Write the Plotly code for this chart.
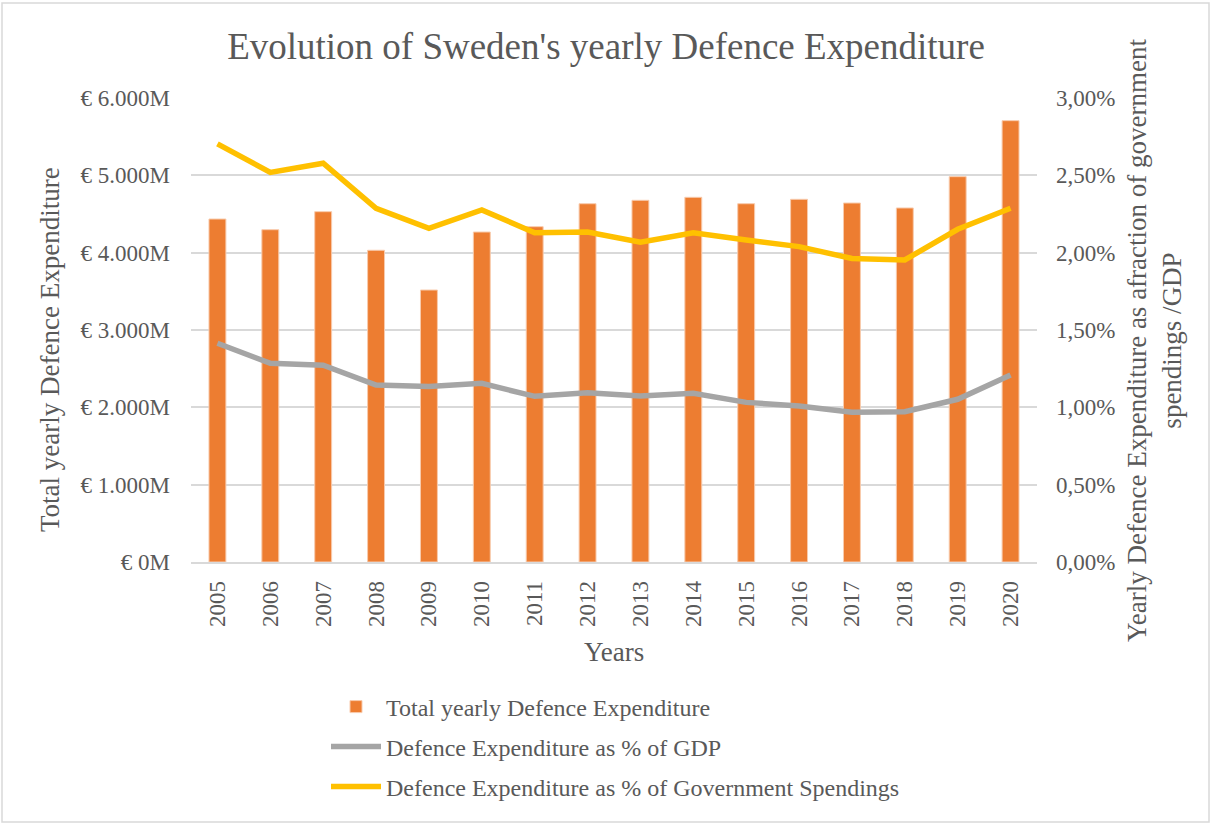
import plotly.graph_objects as go

years = [str(y) for y in range(2005, 2021)]
total_expenditure = [4435, 4297, 4530, 4031, 3517, 4267, 4336, 4633, 4677, 4716,
                     4633, 4690, 4642, 4578, 4983, 5707]
pct_gdp = [1.414, 1.285, 1.272, 1.144, 1.134, 1.155, 1.071, 1.095, 1.073, 1.091,
           1.032, 1.009, 0.968, 0.972, 1.052, 1.209]
pct_gov = [2.703, 2.519, 2.578, 2.287, 2.157, 2.276, 2.129, 2.134, 2.067, 2.129,
           2.082, 2.039, 1.963, 1.953, 2.151, 2.287]

left_ticks = [0, 1000, 2000, 3000, 4000, 5000, 6000]
left_labels = ["€ 0M", "€ 1.000M", "€ 2.000M", "€ 3.000M", "€ 4.000M", "€ 5.000M", "€ 6.000M"]
right_ticks = [0, 0.5, 1.0, 1.5, 2.0, 2.5, 3.0]
right_labels = ["0,00%", "0,50%", "1,00%", "1,50%", "2,00%", "2,50%", "3,00%"]

FONT = "Liberation Serif"
GREY_TXT = "#595959"

fig = go.Figure()
fig.add_trace(go.Bar(
    x=years, y=total_expenditure, name="Total yearly Defence Expenditure",
    marker=dict(color="#ED7D31", line=dict(color="#F8CBAD", width=1)),
    legend="legend", yaxis="y"))
fig.add_trace(go.Scatter(
    x=years, y=pct_gdp, name="Defence Expenditure as % of GDP",
    mode="lines", line=dict(color="#A5A5A5", width=5.5), legend="legend2", yaxis="y2"))
fig.add_trace(go.Scatter(
    x=years, y=pct_gov, name="Defence Expenditure as % of Government Spendings",
    mode="lines", line=dict(color="#FFC000", width=5.5), legend="legend3", yaxis="y2"))

L, R, T, B = 191, 175, 98, 263
W, H = 1212, 825
pw, ph = W - L - R, H - T - B

def px_x(p):
    return (p - L) / pw

def px_y(p):
    return (H - B - p) / ph

def legend_at(ypix):
    return dict(orientation="v", x=px_x(326), xanchor="left",
                y=px_y(ypix), yanchor="middle",
                font=dict(family=FONT, size=24, color=GREY_TXT),
                itemwidth=50, bgcolor="rgba(0,0,0,0)")

fig.update_layout(
    width=W, height=H,
    margin=dict(l=L, r=R, t=T, b=B),
    paper_bgcolor="white", plot_bgcolor="white",
    font=dict(family=FONT, size=23, color=GREY_TXT),
    title=dict(text="Evolution of Sweden's yearly Defence Expenditure",
               x=0.5, xref="container", y=1 - 46 / H, yref="container",
               xanchor="center", yanchor="middle",
               font=dict(family=FONT, size=37, color=GREY_TXT)),
    bargap=0.68,
    xaxis=dict(type="category", tickangle=-90, showgrid=False,
               showline=True, linecolor="#D9D9D9", linewidth=1.5,
               ticks="", tickfont=dict(family=FONT, size=23, color=GREY_TXT),
               ticklabelstandoff=8),
    yaxis=dict(range=[0, 6000], tickvals=left_ticks, ticktext=left_labels,
               tickfont=dict(family=FONT, size=23, color=GREY_TXT),
               showgrid=True, gridcolor="#D9D9D9", gridwidth=1.5,
               zeroline=False, showline=False, ticks="",
               ticklabelstandoff=20),
    yaxis2=dict(range=[0, 3], tickvals=right_ticks, ticktext=right_labels,
                tickfont=dict(family=FONT, size=23, color=GREY_TXT),
                overlaying="y", side="right",
                showgrid=False, zeroline=False, showline=False, ticks="",
                ticklabelstandoff=18),
    legend=legend_at(707),
    legend2=legend_at(747),
    legend3=legend_at(787),
    showlegend=True,
)

fig.add_annotation(text="Years", xref="paper", yref="paper",
                   x=0.5, y=px_y(652), xanchor="center", yanchor="middle",
                   showarrow=False, font=dict(family=FONT, size=27, color=GREY_TXT))
fig.add_annotation(text="Total yearly Defence Expenditure", textangle=-90,
                   xref="paper", yref="paper", x=px_x(50), y=px_y(350),
                   xanchor="center", yanchor="middle", showarrow=False,
                   font=dict(family=FONT, size=27, color=GREY_TXT))
fig.add_annotation(text="Yearly Defence Expenditure as afraction of government<br>spendings /GDP",
                   textangle=-90, xref="paper", yref="paper",
                   x=px_x(1154), y=px_y(340), xanchor="center", yanchor="middle",
                   showarrow=False, font=dict(family=FONT, size=27, color=GREY_TXT))

fig.add_shape(type="rect", xref="paper", yref="paper",
              x0=px_x(2), x1=px_x(1209), y0=px_y(822), y1=px_y(3),
              line=dict(color="#D9D9D9", width=1.5), fillcolor="rgba(0,0,0,0)", layer="below")

fig.write_html("out.html")
